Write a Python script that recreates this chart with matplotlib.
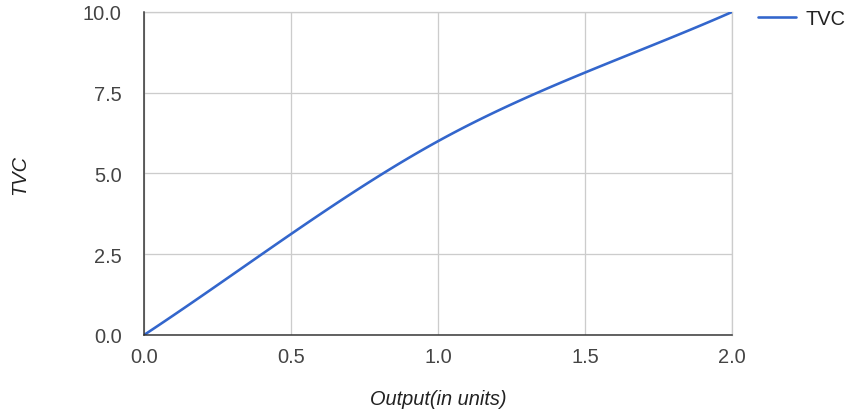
import numpy as np
import matplotlib
matplotlib.use("Agg")
import matplotlib.pyplot as plt
from matplotlib.ticker import FormatStrFormatter

# data
output_units = [0.0, 1.0, 2.0]
tvc = [0.0, 6.0, 10.0]
x_ticks = [0.0, 0.5, 1.0, 1.5, 2.0]
y_ticks = [0.0, 2.5, 5.0, 7.5, 10.0]

plt.rcParams['font.family'] = ['Liberation Sans', 'DejaVu Sans']

px = 0.72  # points per pixel at dpi 100
fs = 20 * px


def smooth(xs, ys, n=60):
    # cubic hermite (catmull-rom style) through the points, like a "function" curve
    xs = np.asarray(xs, float)
    ys = np.asarray(ys, float)
    k = len(xs)
    m = np.zeros(k)
    for i in range(k):
        if i == 0:
            m[i] = (ys[1] - ys[0]) / (xs[1] - xs[0])
        elif i == k - 1:
            m[i] = (ys[-1] - ys[-2]) / (xs[-1] - xs[-2])
        else:
            m[i] = (ys[i + 1] - ys[i - 1]) / (xs[i + 1] - xs[i - 1])
    out_x, out_y = [], []
    for i in range(k - 1):
        h = xs[i + 1] - xs[i]
        t = np.linspace(0, 1, n)
        h00 = 2 * t**3 - 3 * t**2 + 1
        h10 = t**3 - 2 * t**2 + t
        h01 = -2 * t**3 + 3 * t**2
        h11 = t**3 - t**2
        out_x.append(xs[i] + t * h)
        out_y.append(h00 * ys[i] + h10 * h * m[i] + h01 * ys[i + 1] + h11 * h * m[i + 1])
    return np.concatenate(out_x), np.concatenate(out_y)


fig = plt.figure(figsize=(8.49, 4.14), dpi=100)
ax = fig.add_axes([144 / 849, 78 / 414, 588 / 849, 323 / 414])

sx, sy = smooth(output_units, tvc)
ax.plot(sx, sy, color='#3366cc', linewidth=2.6 * px, label='TVC',
        solid_capstyle='round', zorder=3)

ax.set_xlim(0, 2)
ax.set_ylim(0, 10)
ax.set_xticks(x_ticks)
ax.set_yticks(y_ticks)
ax.xaxis.set_major_formatter(FormatStrFormatter('%.1f'))
ax.yaxis.set_major_formatter(FormatStrFormatter('%.1f'))
ax.tick_params(length=0, labelsize=fs, colors='#444444')
ax.tick_params(axis='x', pad=9)
ax.tick_params(axis='y', pad=16)

ax.grid(True, color='#cccccc', linewidth=1.3 * px)
ax.set_axisbelow(True)
for s in ['top', 'right']:
    ax.spines[s].set_color('#cccccc')
    ax.spines[s].set_linewidth(1.3 * px)
for s in ['left', 'bottom']:
    ax.spines[s].set_color('#333333')
    ax.spines[s].set_linewidth(1.5 * px)
    ax.spines[s].set_zorder(4)

fig.text(438 / 849, 1 - 400 / 414, 'Output(in units)', fontsize=fs, style='italic',
         color='#222222', ha='center', va='center')
fig.text(20 / 849, 1 - 175 / 414, 'TVC', fontsize=fs, style='italic',
         color='#222222', ha='center', va='center', rotation=90)

ax.legend(loc='upper left', bbox_to_anchor=(1.0, 1.09), frameon=False,
          fontsize=fs, labelcolor='#222222', handlelength=1.9,
          handletextpad=0.5, borderaxespad=0.9)

fig.savefig('out.png', dpi=100)
